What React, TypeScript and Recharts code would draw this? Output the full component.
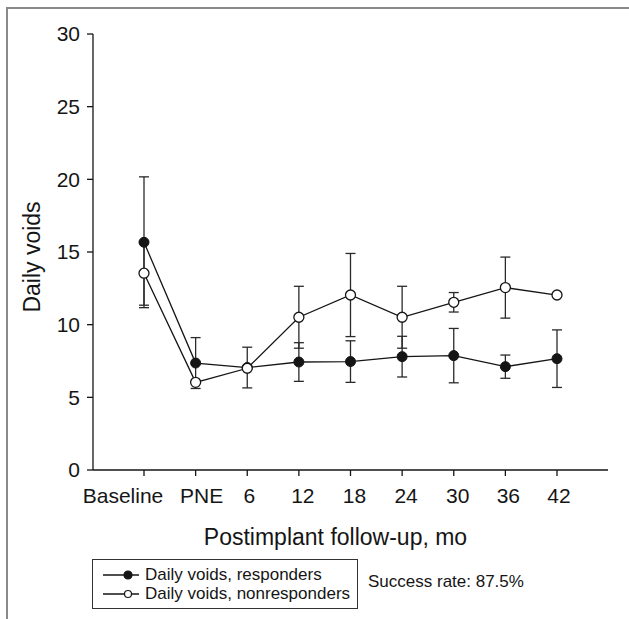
import { LineChart, Line, XAxis, YAxis, ErrorBar, Legend, Label } from 'recharts'

const CATEGORIES = ['Baseline', 'PNE', '6', '12', '18', '24', '30', '36', '42']
const RESPONDERS = [15.67, 7.36, 7.05, 7.43, 7.46, 7.8, 7.87, 7.11, 7.66]
const RESPONDERS_ERR = [4.5, 1.75, 1.4, 1.33, 1.43, 1.4, 1.87, 0.8, 1.98]
const NONRESPONDERS = [13.54, 6.03, 7.0, 10.51, 12.04, 10.51, 11.54, 12.55, 12.04]
const NONRESPONDERS_ERR = [2.2, 0, 0, 2.13, 2.86, 2.13, 0.67, 2.1, 0]
const Y_TICKS = [0, 5, 10, 15, 20, 25, 30]
const SUCCESS_RATE = 'Success rate: 87.5%'
const LEGEND_ORDER = ['responders', 'nonresponders']

// tick labels in the original are nudged off their ticks
const TICK_DX = [-21, 6, 2, 4, 4, 4, 4, 3, 2]

const FONT = '"Liberation Sans", Arial, sans-serif'
const INK = '#151515'

const data = CATEGORIES.map((name, i) => ({
  name,
  responders: RESPONDERS[i],
  respondersErr: RESPONDERS_ERR[i],
  nonresponders: NONRESPONDERS[i],
  nonrespondersErr: NONRESPONDERS_ERR[i],
}))

function XTick(props: any) {
  const { x, y, payload, index } = props
  return (
    <text x={x + (TICK_DX[index] ?? 0)} y={y} dy="0.71em" textAnchor="middle" fontSize={21} fontFamily={FONT} fill={INK}>
      {payload.value}
    </text>
  )
}

function LegendBox(props: any) {
  const items = [...(props.payload || [])].sort(
    (a: any, b: any) => LEGEND_ORDER.indexOf(a.dataKey) - LEGEND_ORDER.indexOf(b.dataKey),
  )
  return (
    <div style={{ position: 'relative', fontFamily: FONT, fontSize: 17, color: INK }}>
      <div
        style={{
          width: 266,
          height: 50,
          boxSizing: 'border-box',
          border: '1px solid #333',
          background: '#fff',
          padding: '5px 0 0 10px',
        }}
      >
        {items.map((item: any) => {
          const filled = item.dataKey === 'responders'
          return (
            <div key={item.dataKey} style={{ display: 'flex', alignItems: 'center', height: 19, lineHeight: '19px' }}>
              <svg width={42} height={12} style={{ flex: 'none' }}>
                <line x1={0} y1={6} x2={36} y2={6} stroke={INK} strokeWidth={1.3} />
                <circle cx={25} cy={6} r={filled ? 4 : 3.5} fill={filled ? INK : '#fff'} stroke={INK} strokeWidth={1.2} />
              </svg>
              <span style={{ whiteSpace: 'nowrap' }}>{item.value}</span>
            </div>
          )
        })}
      </div>
      <div style={{ position: 'absolute', left: 276, top: 13, whiteSpace: 'nowrap', lineHeight: '19px' }}>{SUCCESS_RATE}</div>
    </div>
  )
}

export default function App() {
  return (
    <div style={{ position: 'fixed', left: 0, top: 0, width: 629, height: 619, background: '#fff', overflow: 'hidden' }}>
      <div
        style={{
          position: 'absolute',
          left: 6,
          top: 7,
          width: 660,
          height: 660,
          borderTop: '2px solid #8a8a8a',
          borderLeft: '2px solid #8a8a8a',
        }}
      />
      <LineChart
        width={629}
        height={619}
        data={data}
        margin={{ top: 34, right: 21, bottom: 69, left: 33 }}
        style={{ position: 'absolute', left: 0, top: 0 }}
      >
        <XAxis
          dataKey="name"
          height={80}
          padding={{ left: 51, right: 51 }}
          tickSize={6}
          tickMargin={12}
          axisLine={{ stroke: INK, strokeWidth: 1.3 }}
          tickLine={{ stroke: INK, strokeWidth: 1.3 }}
          tick={<XTick />}
          interval={0}
        >
          <Label
            content={({ viewBox }: any) => (
              <text
                x={viewBox.x + viewBox.width / 2 - 15}
                y={545}
                textAnchor="middle"
                fontSize={23}
                fontFamily={FONT}
                fill={INK}
              >
                Postimplant follow-up, mo
              </text>
            )}
          />
        </XAxis>
        <YAxis
          width={60}
          domain={[0, 30]}
          ticks={Y_TICKS}
          tickSize={6}
          tickMargin={7}
          axisLine={{ stroke: INK, strokeWidth: 1.3 }}
          tickLine={{ stroke: INK, strokeWidth: 1.3 }}
          tick={{ fontSize: 21, fontFamily: FONT, fill: INK }}
          interval={0}
        >
          <Label
            content={({ viewBox }: any) => {
              const cx = 40
              const cy = viewBox.y + viewBox.height / 2 + 5
              return (
                <text
                  x={cx}
                  y={cy}
                  transform={`rotate(-90 ${cx} ${cy})`}
                  textAnchor="middle"
                  fontSize={23}
                  fontFamily={FONT}
                  fill={INK}
                >
                  Daily voids
                </text>
              )
            }}
          />
        </YAxis>
        <Legend
          layout="vertical"
          align="center"
          verticalAlign="middle"
          content={<LegendBox />}
          wrapperStyle={{ left: 92, top: 559, width: 420 }}
        />
        <Line
          dataKey="responders"
          name="Daily voids, responders"
          stroke={INK}
          strokeWidth={1.3}
          dot={{ r: 5, fill: INK, stroke: INK, strokeWidth: 1 }}
          activeDot={false}
          isAnimationActive={false}
        >
          <ErrorBar dataKey="respondersErr" width={5} stroke="#2a2a2a" strokeWidth={1.3} direction="y" />
        </Line>
        <Line
          dataKey="nonresponders"
          name="Daily voids, nonresponders"
          stroke={INK}
          strokeWidth={1.3}
          dot={{ r: 5, fill: '#fff', stroke: INK, strokeWidth: 1.3 }}
          activeDot={false}
          isAnimationActive={false}
        >
          <ErrorBar dataKey="nonrespondersErr" width={5} stroke="#2a2a2a" strokeWidth={1.3} direction="y" />
        </Line>
      </LineChart>
    </div>
  )
}
